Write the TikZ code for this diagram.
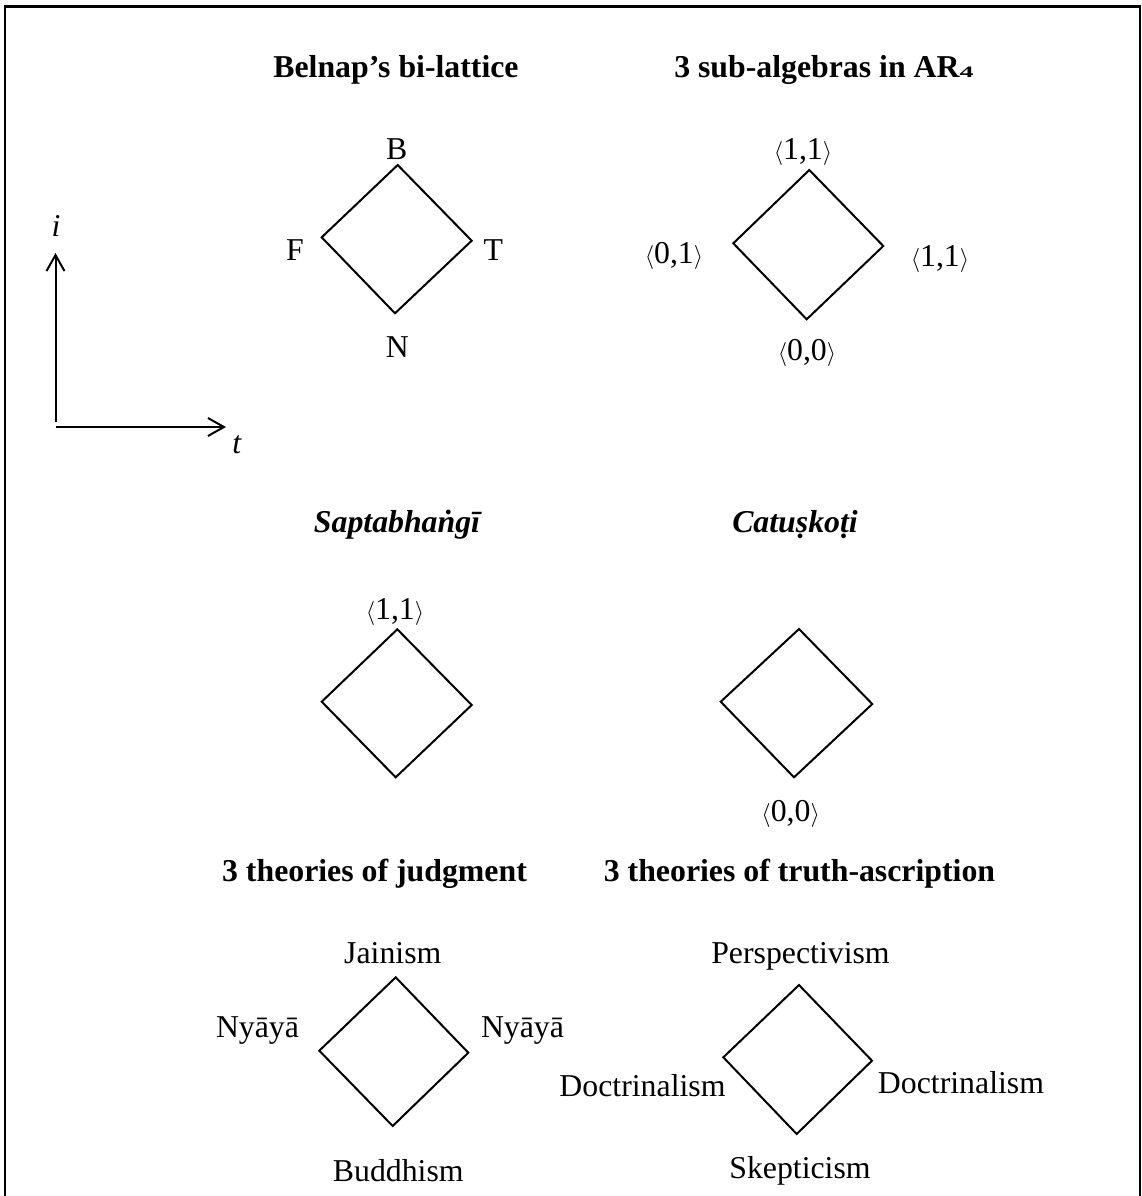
\documentclass[tikz,border=0pt]{standalone}
\usepackage{fontspec}
\setmainfont{Liberation Serif}
\usetikzlibrary{arrows.meta}
\newcommand{\mypair}[1]{{\fontsize{12.5}{14}\selectfont$\langle$}#1{\fontsize{12.5}{14}\selectfont$\rangle$}}
\begin{document}
\begin{tikzpicture}[x=0.5pt,y=-0.5pt,
  font=\fontsize{15.9}{19}\selectfont,
  lbl/.style={inner sep=0pt, anchor=base},
  ttl/.style={lbl, font=\fontsize{15.9}{19}\selectfont\bfseries},
  ittl/.style={lbl, font=\fontsize{15.9}{19}\selectfont\bfseries\itshape},
  edge/.style={line width=1pt, line join=miter},
  axis/.style={line width=1pt, -{Straight Barb[length=8pt,width=9pt,line width=1pt]}}]
\useasboundingbox (0,0) rectangle (1142,1196);
% frame
\draw[line width=1.25pt] (5,1200) -- (5,6.5) -- (1140,6.5) -- (1140,1200);

% titles
\node[ttl] (t1) at (396,77.3) {Belnap’s bi-lattice};
\node[ttl, anchor=base east] (t2) at (974,77.3) {3 sub-algebras in AR\scalebox{0.88}[0.5]{4}};
\node[ittl] (t3) at (397,532.7) {Saptabhaṅgī};
\node[ittl] (t4) at (795,532.7) {Catuṣkoṭi};
\node[ttl] (t5) at (374.5,881) {3 theories of judgment};
\node[ttl] (t6) at (799.5,881) {3 theories of truth-ascription};

% axes
\coordinate (vb) at (55.5,422);
\coordinate (vt) at (55.5,253);
\coordinate (hb) at (55.5,427);
\coordinate (ht) at (226,427);
\draw[axis] (vb) -- (vt);
\draw[axis] (hb) -- (ht);
\node[lbl, font=\fontsize{15.9}{19}\selectfont\itshape] (ai) at (56,236) {i};
\node[lbl, font=\fontsize{15.9}{19}\selectfont\itshape] (at) at (236.7,453.3) {t};

% Belnap diamond
\coordinate (a1) at (397.7,165);
\coordinate (a2) at (471.7,240.7);
\coordinate (a3) at (395,313.3);
\coordinate (a4) at (321.7,237.3);
\draw[edge] (a1) -- (a2) -- (a3) -- (a4) -- cycle;
\node[lbl] (lB) at (396.7,159) {B};
\node[lbl] (lF) at (295,260) {F};
\node[lbl] (lT) at (493.3,260) {T};
\node[lbl] (lN) at (397.3,357) {N};

% sub-algebras diamond
\coordinate (b1) at (809.3,170);
\coordinate (b2) at (883.3,246);
\coordinate (b3) at (806.7,319.3);
\coordinate (b4) at (733.3,243.3);
\draw[edge] (b1) -- (b2) -- (b3) -- (b4) -- cycle;
\node[lbl] (lb1) at (803,159) {\mypair{1,1}};
\node[lbl] (lb4) at (674,263.3) {\mypair{0,1}};
\node[lbl] (lb2) at (940,266.7) {\mypair{1,1}};
\node[lbl] (lb3) at (807,360) {\mypair{0,0}};

% Saptabhangi diamond
\coordinate (c1) at (397.3,629.3);
\coordinate (c2) at (471.7,705);
\coordinate (c3) at (395.7,777.3);
\coordinate (c4) at (321.7,701.7);
\draw[edge] (c1) -- (c2) -- (c3) -- (c4) -- cycle;
\node[lbl] (lc1) at (395,619.3) {\mypair{1,1}};

% Catuskoti diamond
\coordinate (d1) at (799,629);
\coordinate (d2) at (872.3,704);
\coordinate (d3) at (794,777.3);
\coordinate (d4) at (720.7,701.7);
\draw[edge] (d1) -- (d2) -- (d3) -- (d4) -- cycle;
\node[lbl] (ld3) at (790.7,821.7) {\mypair{0,0}};

% judgment diamond
\coordinate (e1) at (395.7,977.3);
\coordinate (e2) at (468.3,1052.7);
\coordinate (e3) at (392.7,1126);
\coordinate (e4) at (319.3,1050.7);
\draw[edge] (e1) -- (e2) -- (e3) -- (e4) -- cycle;
\node[lbl] (le1) at (392.8,963.3) {Jainism};
\node[lbl] (le4) at (257.5,1037.3) {Nyāyā};
\node[lbl] (le2) at (522.5,1037.3) {Nyāyā};
\node[lbl] (le3) at (398.3,1181.7) {Buddhism};

% truth-ascription diamond
\coordinate (f1) at (799,985);
\coordinate (f2) at (872,1060.7);
\coordinate (f3) at (796.7,1134);
\coordinate (f4) at (723.3,1057.3);
\draw[edge] (f1) -- (f2) -- (f3) -- (f4) -- cycle;
\node[lbl] (lf1) at (800.5,963.3) {Perspectivism};
\node[lbl] (lf4) at (642.5,1096.7) {Doctrinalism};
\node[lbl] (lf2) at (961,1093.3) {Doctrinalism};
\node[lbl] (lf3) at (800,1178) {Skepticism};
\end{tikzpicture}
\end{document}
